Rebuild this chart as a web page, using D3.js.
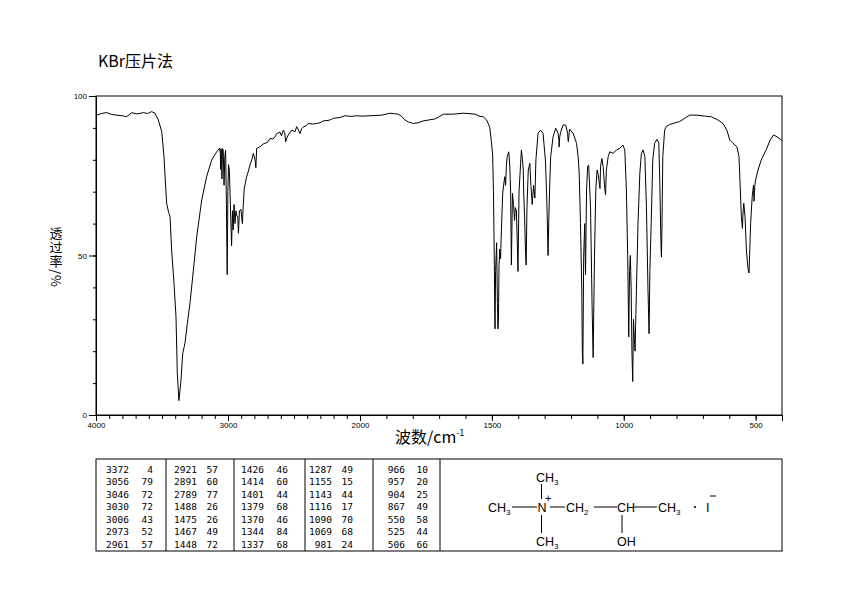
<!DOCTYPE html>
<html>
<head>
<meta charset="utf-8">
<script src="https://cdn.jsdelivr.net/npm/d3@7"></script>
<style>
  body { margin: 0; background: #fff; }
  text { fill: #000; }
</style>
</head>
<body>
<div class="container"></div>
<script>
// spectrum: [wavenumber, transmittance %]
const spectrum = [
  [4000,94.0],[3995,94.0],[3960,94.5],[3919,94.8],[3880,94.2],[3843,94.0],[3800,93.8],[3768,93.5],
  [3730,94.8],[3692,94.4],[3660,94.6],[3641,94.8],[3610,94.5],[3578,95.1],[3553,94.6],[3528,92.5],
  [3502,88.8],[3485,81],[3465,66.4],[3450,63.5],[3439,62.2],[3427,51.7],[3409,41.3],[3394,30.8],
  [3384,13.1],[3372,4.5],[3358,10],[3343,19.3],[3326,22.5],[3308,28.7],[3288,35],[3262,45.5],
  [3237,55.9],[3199,67.4],[3162,74.7],[3124,79.9],[3086,82.5],[3065,83.6],[3058,82],[3056,77],
  [3053,83.5],[3049,82],[3046,74],[3042,83.5],[3036,83],[3030,72],[3024,81],[3018,83],[3012,66],
  [3006,44],[3001,70],[2996,78.5],[2990,77],[2982,66],[2973,53],[2966,64],[2961,58],[2954,66],
  [2947,60],[2940,64],[2934,62.7],[2926,62],[2921,57],[2913,64],[2902,64.5],[2896,62],[2891,60],
  [2884,66],[2877,71],[2859,74.7],[2845,76.5],[2833,78.4],[2820,80],[2808,82],[2795,80],[2789,77.5],
  [2783,83.6],[2760,84],[2732,85],[2700,85.5],[2682,86.7],[2660,86.5],[2644,87.2],[2631,88.2],
  [2606,88.7],[2595,87.5],[2581,89.3],[2570,88.5],[2563,85.6],[2553,87],[2543,87.8],[2518,89.3],
  [2492,88.8],[2480,90.4],[2468,89.5],[2455,88.2],[2442,89.8],[2429,90.3],[2410,90.6],[2392,91.4],
  [2360,91.2],[2328,91.4],[2303,91.6],[2278,92.2],[2250,92.3],[2227,92.5],[2202,93.0],[2150,93.3],
  [2114,93.8],[2070,93.6],[2025,93.8],[1990,93.7],[1962,93.8],[1918,94.0],[1886,94.6],[1855,94.3],
  [1842,93.6],[1830,92.5],[1815,91.8],[1798,91.4],[1780,91.6],[1760,92.2],[1716,92.8],[1700,93.5],
  [1684,94.3],[1647,94.3],[1609,94.6],[1590,94.5],[1564,94.3],[1545,93.6],[1533,93.5],[1520,92.5],
  [1508,90.2],[1502,85.7],[1497,81.5],[1494,70],[1491,50],[1489,32],[1488,27],[1486,45],[1482,54],
  [1479,35],[1477,27],[1475,30],[1473,46.5],[1470,52],[1467,49],[1465,55],[1459,69.5],[1454,73],
  [1451,74.7],[1448,72],[1445,78],[1442,81],[1436,82.5],[1432,78],[1429,70.5],[1426,47],[1422,69.5],
  [1418,66],[1414,61],[1411,65],[1407,64],[1404,55],[1401,45],[1397,70],[1391,78.9],[1388,83.1],
  [1384,80],[1381,76.8],[1379,69],[1376,62],[1372,50],[1370,47],[1367,65],[1362,76.8],[1356,78.9],
  [1352,72],[1347,66],[1342,72],[1337,68],[1333,80],[1325,88.3],[1316,89.3],[1306,88.3],[1297,79.9],
  [1292,68],[1289,58],[1287,50],[1284,62],[1280,74],[1277,81],[1268,87.2],[1258,89.9],[1249,88.3],
  [1246,86],[1245,84],[1243,87],[1240,88.5],[1230,90.9],[1220,90.9],[1213,88.3],[1211,86],[1210,85.7],
  [1207,88.5],[1205,89.6],[1192,88.3],[1179,85.2],[1173,81],[1169,76],[1164,60],[1159,39],[1157,20],
  [1155,16],[1152,49.6],[1148,60],[1145,44],[1141,70.5],[1137,77.8],[1133,78.4],[1126,65.3],[1120,34],
  [1116,18],[1111,49.6],[1106,70.5],[1101,76.8],[1096,75],[1092,72],[1090,71],[1088,77.8],[1083,80.4],
  [1078,77.8],[1072,71],[1069,69],[1066,76.8],[1059,81],[1053,82.5],[1040,82],[1028,83.1],[1015,83.6],
  [1003,84.6],[996,83.1],[990,70.5],[985,49.6],[981,24.5],[978,45],[975,50],[972,40],[969,20],
  [966,10.5],[963,30],[960,24],[957,20],[955,28],[952,39],[946,60],[939,75.8],[933,82],[927,83.1],
  [920,81],[914,65.3],[908,39],[904,25.5],[901,45],[896,60],[890,80],[883,85.2],[874,86.4],[867,85.2],
  [863,72],[860,58],[858,51],[857,49.5],[855,60],[852,81],[845,89.3],[839,90.4],[826,91.1],[813,91.4],
  [788,92],[769,93],[750,94],[725,94],[693,93.7],[668,93.5],[643,92.5],[624,91.4],[609,89.3],[598,86.2],
  [586,85.2],[571,84.1],[563,81],[558,70.5],[554,62],[550,58.5],[548,63],[545,66.4],[540,62],[535,51.7],
  [529,46],[525,44.5],[522,52],[519,60.1],[513,68.4],[508,72.1],[506,67],[503,72],[500,73.7],[491,76.8],
  [479,79.9],[460,83.1],[445,86.2],[432,87.8],[419,87.2],[402,86.2],[400,86]
];

// peak table
const peakWn = [3372,3056,3046,3030,3006,2973,2961, 2921,2891,2789,1488,1475,1467,1448,
  1426,1414,1401,1379,1370,1344,1337, 1287,1155,1143,1116,1090,1069,981, 966,957,904,867,550,525,506];
const peakT = [4,79,72,72,43,52,57, 57,60,77,26,26,49,72, 46,60,44,68,46,84,68,
  49,15,44,17,70,68,24, 10,20,25,49,58,44,66];

const xMajor = [4000,3000,2000,1500,1000,500];
const yMajor = [0,50,100];

const title = 'KBr压片法';
const yLabel = '透过率/%';

const W = 850, H = 600;
const svg = d3.select('.container').append('svg')
  .attr('width', W).attr('height', H)
  .style('font-family', '"Liberation Sans", Arial, sans-serif');

// split scale: 4000-2000 compressed to half
const x = d3.scaleLinear().domain([4000,2000,400]).range([96,360,782]);
const y = d3.scaleLinear().domain([0,100]).range([415,96]);

// frame
svg.append('rect')
  .attr('x', 96).attr('y', 96).attr('width', 686).attr('height', 319)
  .attr('fill', 'none').attr('stroke', '#000').attr('stroke-width', 1);

// y axis
const yMinorTicks = d3.range(0,101,10);
svg.append('g').attr('transform', 'translate(96,0)')
  .call(d3.axisLeft(y).tickValues(yMinorTicks).tickSize(3).tickFormat(''))
  .call(g => g.select('.domain').remove());
svg.append('g').attr('transform', 'translate(96,0)')
  .call(d3.axisLeft(y).tickValues(yMajor).tickSize(7).tickPadding(2).tickFormat(d3.format('d')))
  .call(g => g.selectAll('text').attr('font-size', 8).attr('dy', '0.32em'));

// x axis
const xMinorTicks = d3.range(4000,399,-100);
svg.append('g').attr('transform', 'translate(0,415)')
  .call(d3.axisBottom(x).tickValues(xMinorTicks).tickSize(4).tickFormat(''))
  .call(g => g.select('.domain').remove());
svg.append('g').attr('transform', 'translate(0,415)')
  .call(d3.axisBottom(x).tickValues(xMajor).tickSize(6).tickPadding(1).tickFormat(d3.format('d')))
  .call(g => g.selectAll('text').attr('font-size', 8));
svg.selectAll('.domain').attr('stroke', '#000');

// spectrum line
const line = d3.line().x(d => x(d[0])).y(d => y(d[1]));
svg.append('path').datum(spectrum)
  .attr('d', line)
  .attr('fill', 'none').attr('stroke', '#000').attr('stroke-width', 1);

// title
svg.append('text').attr('x', 98).attr('y', 67)
  .attr('font-size', 16)
  .style('font-family', '"Noto Sans CJK SC", sans-serif')
  .text(title);

// y label: vertical writing, CJK upright and "/%" turned sideways
svg.append('text')
  .attr('x', 56).attr('y', 227)
  .attr('font-size', 13)
  .style('writing-mode', 'vertical-rl')
  .style('letter-spacing', '1px')
  .style('font-family', '"Noto Sans CJK SC", sans-serif')
  .text(yLabel);

// x label
const xl = svg.append('text').attr('x', 395).attr('y', 443)
  .attr('font-size', 16)
  .style('font-family', '"Noto Sans CJK SC", sans-serif');
xl.append('tspan').text('波数/cm');
xl.append('tspan').attr('font-size', 9).attr('dy', -7).text('-1');

// peak table
const tableTop = 459, tableBottom = 551;
svg.append('rect')
  .attr('x', 96).attr('y', tableTop).attr('width', 686).attr('height', tableBottom - tableTop)
  .attr('fill', 'none').attr('stroke', '#000');
const colLines = [166, 234, 305, 373, 440];
svg.selectAll('.colline').data(colLines).enter().append('line')
  .attr('x1', d => d).attr('x2', d => d)
  .attr('y1', tableTop).attr('y2', tableBottom)
  .attr('stroke', '#000');

const wnRight = [129, 197, 264, 332, 405];
const tRight = [153, 218, 288, 353, 428];
const rows = 7;
const tbl = svg.append('g')
  .style('font-family', '"DejaVu Sans Mono", monospace')
  .attr('font-size', 9.5)
  .attr('text-anchor', 'end');
peakWn.forEach((wn, i) => {
  const col = Math.floor(i / rows), row = i % rows;
  const yy = 472.5 + row * 12.5;
  tbl.append('text').attr('x', wnRight[col]).attr('y', yy).text(wn);
  tbl.append('text').attr('x', tRight[col]).attr('y', yy).text(peakT[i]);
});

// structure: (CH3)3N+ - CH2 - CH(OH) - CH3 · I-
const st = svg.append('g').attr('font-size', 12.5);
function group(xp, yp, main, sub) {
  const t = st.append('text').attr('x', xp).attr('y', yp);
  t.append('tspan').text(main);
  if (sub) t.append('tspan').attr('font-size', 8).attr('dy', 3).text(sub);
}
const bonds = [
  [512,507,537,507],[550,507,565,507],[594,507,617,507],[634,507,657,507],
  [541.5,484,541.5,499],[541.5,515,541.5,533],[622,515,622,533]
];
st.selectAll('line').data(bonds).enter().append('line')
  .attr('x1', d => d[0]).attr('y1', d => d[1]).attr('x2', d => d[2]).attr('y2', d => d[3])
  .attr('stroke', '#000').attr('stroke-width', 1);
group(536, 482, 'CH', '3');
group(488, 511.5, 'CH', '3');
group(537.5, 511.5, 'N');
st.append('text').attr('x', 545).attr('y', 502).attr('font-size', 11).text('+');
group(566, 511.5, 'CH', '2');
group(617, 511.5, 'CH');
group(658, 511.5, 'CH', '3');
st.append('circle').attr('cx', 695).attr('cy', 507).attr('r', 1.1).attr('fill', '#000');
group(706, 511.5, 'I');
st.append('line').attr('x1', 710).attr('x2', 716).attr('y1', 496).attr('y2', 496).attr('stroke', '#000');
group(536, 546, 'CH', '3');
group(617, 546, 'OH');
</script>
</body>
</html>
